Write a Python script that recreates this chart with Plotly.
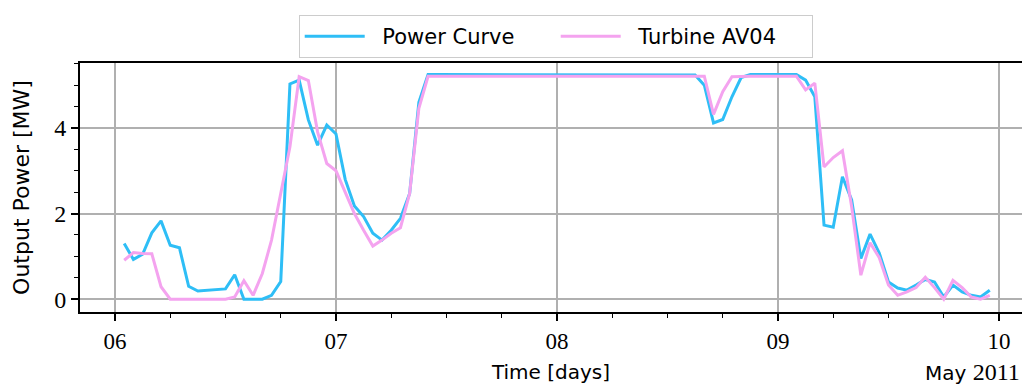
import pandas as pd
import plotly.graph_objects as go

start = pd.Timestamp("2011-05-06 01:00")
times = pd.date_range(start, periods=95, freq="h")

power_curve = [
    1.30, 0.93, 1.05, 1.55, 1.83, 1.26, 1.20, 0.30, 0.19, 0.21,
    0.22, 0.24, 0.57, 0.00, 0.00, 0.00, 0.09, 0.41, 5.03, 5.12,
    4.19, 3.60, 4.07, 3.86, 2.80, 2.18, 1.93, 1.54, 1.38, 1.61,
    1.89, 2.47, 4.60, 5.25, 5.25, 5.25, 5.25, 5.25, 5.25, 5.25,
    5.25, 5.25, 5.25, 5.25, 5.25, 5.25, 5.25, 5.25, 5.25, 5.25,
    5.25, 5.25, 5.25, 5.25, 5.25, 5.25, 5.25, 5.25, 5.25, 5.25,
    5.25, 5.25, 5.24, 5.00, 4.12, 4.20, 4.73, 5.18, 5.25, 5.25,
    5.25, 5.25, 5.25, 5.25, 5.12, 4.73, 1.73, 1.68, 2.86, 2.32,
    0.95, 1.52, 1.08, 0.40, 0.26, 0.21, 0.33, 0.46, 0.40, 0.05,
    0.33, 0.17, 0.09, 0.05, 0.21,
]

turbine_av04 = [
    0.91, 1.09, 1.07, 1.06, 0.29, 0.00, 0.00, 0.00, 0.00, 0.00,
    0.00, 0.00, 0.05, 0.43, 0.09, 0.60, 1.38, 2.47, 3.56, 5.20,
    5.11, 3.91, 3.17, 3.00, 2.51, 2.00, 1.61, 1.24, 1.38, 1.54,
    1.67, 2.47, 4.46, 5.21, 5.21, 5.21, 5.21, 5.21, 5.21, 5.21,
    5.21, 5.21, 5.21, 5.21, 5.21, 5.21, 5.21, 5.21, 5.21, 5.21,
    5.21, 5.21, 5.21, 5.21, 5.21, 5.21, 5.21, 5.21, 5.21, 5.21,
    5.21, 5.21, 5.21, 5.21, 4.32, 4.85, 5.20, 5.21, 5.21, 5.21,
    5.21, 5.21, 5.21, 5.21, 4.89, 5.05, 3.09, 3.31, 3.47, 2.16,
    0.56, 1.32, 0.97, 0.33, 0.09, 0.17, 0.27, 0.51, 0.27, 0.00,
    0.44, 0.27, 0.05, 0.00, 0.09,
]

day_ticks = ["2011-05-06", "2011-05-07", "2011-05-08", "2011-05-09", "2011-05-10"]
day_labels = ["06", "07", "08", "09", "10"]
y_ticks = [0, 2, 4]
y_labels = ["0", "2", "4"]

BLUE = "#2ebef6"
PINK = "#f4a3ef"
SANS = "DejaVu Sans"
SERIF = "Liberation Serif"
PAD = "\u2002\u200a"

fig = go.Figure()
fig.add_trace(go.Scatter(x=times, y=power_curve, mode="lines", name=PAD + "Power Curve",
                         line=dict(color=BLUE, width=3)))
fig.add_trace(go.Scatter(x=times, y=turbine_av04, mode="lines", name=PAD + "Turbine AV04",
                         line=dict(color=PINK, width=3)))

fig.update_layout(
    width=1023, height=390,
    margin=dict(l=80, r=1, t=63, b=78),
    paper_bgcolor="white", plot_bgcolor="white",
    showlegend=True,
    legend=dict(orientation="h", x=0.505, xanchor="center", y=1.02, yanchor="bottom",
                bordercolor="#cccccc", borderwidth=1, bgcolor="white",
                font=dict(family=SANS, size=21, color="black"),
                itemwidth=60, entrywidth=181),
    xaxis=dict(
        type="date",
        range=["2011-05-05 20:12", "2011-05-10 02:30"],
        tickvals=day_ticks, ticktext=day_labels,
        tickfont=dict(family=SERIF, size=23, color="black"),
        ticks="outside", ticklen=7, tickwidth=1.5, tickcolor="black",
        showline=True, linecolor="black", linewidth=2, mirror=True,
        showgrid=True, gridcolor="#b0b0b0", gridwidth=1.5,
        zeroline=False,
        minor=dict(dtick=6 * 3600 * 1000, ticks="outside", ticklen=4, tickcolor="black",
                   tickwidth=1.2, showgrid=False),
        title=dict(text="Time [days]", font=dict(family=SANS, size=20, color="black"), standoff=12),
    ),
    yaxis=dict(
        range=[-0.3, 5.52],
        tickvals=y_ticks, ticktext=y_labels,
        tickfont=dict(family=SERIF, size=24, color="black"),
        ticks="outside", ticklen=7, tickwidth=1.5, tickcolor="black",
        showline=True, linecolor="black", linewidth=2,
        showgrid=True, gridcolor="#b0b0b0", gridwidth=1.5,
        zeroline=False,
        minor=dict(dtick=0.5, ticks="outside", ticklen=4, tickcolor="black",
                   tickwidth=1.2, showgrid=False),
        title=dict(text="Output Power [MW]", font=dict(family=SANS, size=22, color="black"), standoff=19),
    ),
)

fig.add_annotation(
    x=1.0, y=-0.241, xref="paper", yref="paper", xanchor="right", yanchor="middle",
    text=f"<span style='font-family:{SANS}'>May</span> <span style='font-family:{SERIF};font-size:24px'>2011</span>",
    showarrow=False, font=dict(family=SANS, size=20, color="black"),
)

fig.write_html("out.html")
